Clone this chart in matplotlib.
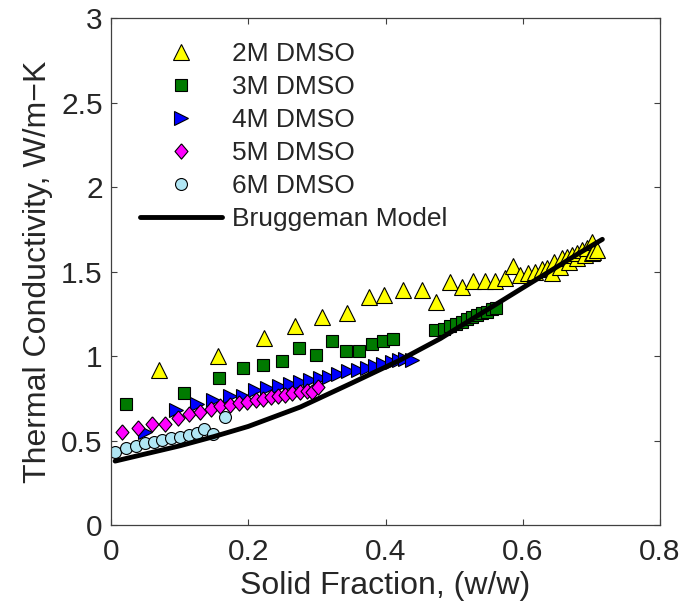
"""Thermal conductivity vs solid fraction for DMSO solutions, with Bruggeman model."""

import matplotlib

matplotlib.use("Agg")
import matplotlib.pyplot as plt

plt.rcParams["font.family"] = ["Liberation Sans", "DejaVu Sans"]

# 2M DMSO
x_2m = [0.070, 0.156, 0.223, 0.268, 0.308, 0.344, 0.376, 0.398, 0.425, 0.453,
        0.474, 0.494, 0.511, 0.528, 0.545, 0.560, 0.574, 0.586, 0.596, 0.608,
        0.618, 0.628, 0.635, 0.642, 0.645, 0.654, 0.657, 0.664, 0.667, 0.672,
        0.679, 0.679, 0.686, 0.691, 0.693, 0.701, 0.701, 0.703, 0.708]
y_2m = [0.92, 1.00, 1.11, 1.18, 1.23, 1.255, 1.35, 1.365, 1.39, 1.392,
        1.323, 1.441, 1.412, 1.445, 1.445, 1.445, 1.461, 1.534, 1.481, 1.491,
        1.501, 1.515, 1.52, 1.495, 1.56, 1.53, 1.58, 1.59, 1.56, 1.60,
        1.58, 1.61, 1.629, 1.60, 1.639, 1.678, 1.613, 1.619, 1.629]

# 3M DMSO
x_3m = [0.022, 0.106, 0.158, 0.192, 0.221, 0.249, 0.274, 0.299, 0.322, 0.343,
        0.362, 0.380, 0.396, 0.411, 0.472, 0.485, 0.494, 0.503, 0.511, 0.519,
        0.526, 0.533, 0.540, 0.548, 0.555, 0.561]
y_3m = [0.716, 0.784, 0.874, 0.930, 0.948, 0.973, 1.048, 1.010, 1.093, 1.030,
        1.033, 1.070, 1.090, 1.100, 1.156, 1.164, 1.178, 1.191, 1.205, 1.219,
        1.231, 1.244, 1.254, 1.264, 1.278, 1.288]

# 4M DMSO
x_4m = [0.050, 0.094, 0.125, 0.149, 0.173, 0.193, 0.210, 0.227, 0.245, 0.261,
        0.276, 0.290, 0.304, 0.318, 0.331, 0.346, 0.360, 0.373, 0.385, 0.397,
        0.409, 0.419, 0.428, 0.438]
y_4m = [0.554, 0.683, 0.716, 0.739, 0.766, 0.764, 0.798, 0.814, 0.823, 0.838,
        0.848, 0.858, 0.872, 0.880, 0.893, 0.910, 0.920, 0.933, 0.942, 0.956,
        0.966, 0.980, 0.986, 0.979]

# 5M DMSO
x_5m = [0.016, 0.040, 0.059, 0.079, 0.097, 0.114, 0.130, 0.146, 0.159, 0.173,
        0.187, 0.198, 0.212, 0.222, 0.233, 0.243, 0.254, 0.264, 0.275, 0.285,
        0.293, 0.301]
y_5m = [0.550, 0.575, 0.599, 0.599, 0.633, 0.658, 0.673, 0.688, 0.706, 0.712,
        0.723, 0.728, 0.741, 0.748, 0.759, 0.766, 0.771, 0.782, 0.789, 0.794,
        0.789, 0.821]

# 6M DMSO
x_6m = [0.006, 0.022, 0.036, 0.049, 0.062, 0.075, 0.088, 0.100, 0.113, 0.125,
        0.135, 0.148, 0.166]
y_6m = [0.435, 0.458, 0.469, 0.485, 0.495, 0.505, 0.515, 0.524, 0.534, 0.545,
        0.572, 0.543, 0.639]

# Bruggeman model curve
x_model = [0.006, 0.10, 0.15, 0.20, 0.276, 0.35, 0.42, 0.45, 0.48, 0.548,
           0.596, 0.645, 0.68, 0.716]
y_model = [0.38, 0.47, 0.525, 0.585, 0.70, 0.84, 0.975, 1.04, 1.105, 1.275,
           1.395, 1.517, 1.605, 1.692]

x_ticks = [0, 0.2, 0.4, 0.6, 0.8]
x_tick_labels = ["0", "0.2", "0.4", "0.6", "0.8"]
y_ticks = [0, 0.5, 1, 1.5, 2, 2.5, 3]
y_tick_labels = ["0", "0.5", "1", "1.5", "2", "2.5", "3"]

# Diamond a bit narrower than tall, like MATLAB's
diamond = [(0, 1), (0.85, 0), (0, -1), (-0.85, 0), (0, 1)]

fig = plt.figure(figsize=(6.84, 6.07), dpi=100)
ax = fig.add_axes([0.1623, 0.1346, 0.8026, 0.8353])

edge = dict(markeredgecolor="black", markeredgewidth=0.8, linestyle="none")
ax.plot(x_2m, y_2m, marker="^", markersize=12, markerfacecolor="#ffff00",
        label="2M DMSO", **edge)
ax.plot(x_3m, y_3m, marker="s", markersize=8.2, markerfacecolor="#007a00",
        label="3M DMSO", **edge)
ax.plot(x_4m, y_4m, marker=">", markersize=9.8, markerfacecolor="#0000ff",
        label="4M DMSO", **edge)
ax.plot(x_5m, y_5m, marker=diamond, markersize=11, markerfacecolor="#ff00ff",
        label="5M DMSO", **edge)
ax.plot(x_6m, y_6m, marker="o", markersize=8.6, markerfacecolor="#b0e6f4",
        label="6M DMSO", **edge)
ax.plot(x_model, y_model, color="black", lw=3.5, solid_capstyle="round",
        label="Bruggeman Model")

ax.set_xlim(0, 0.8)
ax.set_ylim(0, 3)
ax.set_xticks(x_ticks)
ax.set_xticklabels(x_tick_labels)
ax.set_yticks(y_ticks)
ax.set_yticklabels(y_tick_labels)
ax.tick_params(direction="in", length=4, width=0.8, color="#404040",
               top=True, right=True, labelsize=21.5, labelcolor="#262626")
ax.tick_params(axis="x", pad=9)
ax.tick_params(axis="y", pad=6)
for sp in ax.spines.values():
    sp.set_color("#404040")
    sp.set_linewidth(0.9)

ax.set_xlabel("Solid Fraction, (w/w)", fontsize=23, color="#262626", labelpad=4)
ax.set_ylabel("Thermal Conductivity, W/m\u2212K", fontsize=23, color="#262626",
              labelpad=6)

leg = ax.legend(loc="upper left", bbox_to_anchor=(0.053, 0.953), frameon=False,
                fontsize=19, numpoints=1, handlelength=3.1, handletextpad=0.4,
                labelspacing=0.34, borderpad=0, borderaxespad=0)
for t in leg.get_texts():
    t.set_color("#262626")

fig.savefig("out.png", dpi=100)
